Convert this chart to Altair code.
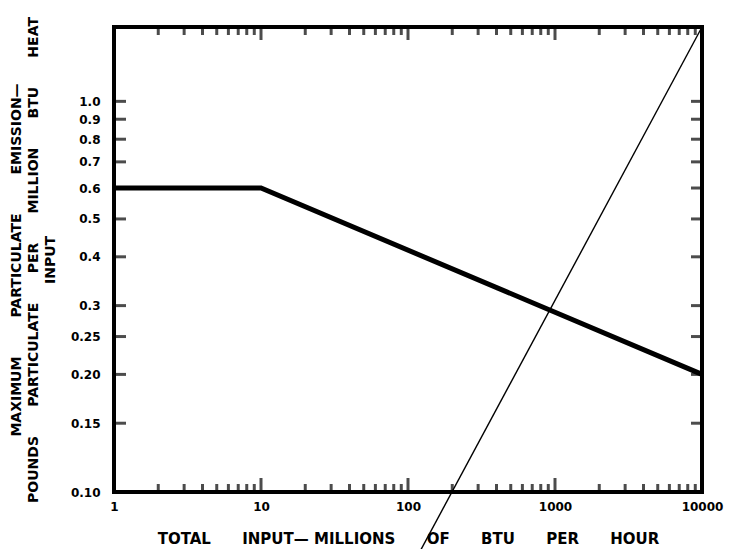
import altair as alt
import pandas as pd

# ---- data ----
thick_x = [1, 10, 10000]
thick_y = [0.6, 0.6, 0.2]

thin_x = [122, 10000]
thin_y = [0.071, 1.55]

x_label_values = [1, 10, 100, 1000, 10000]
x_major_ticks = [10, 100, 1000]
x_minor_ticks = [2, 3, 4, 5, 6, 7, 8, 9,
                 20, 30, 40, 50, 60, 70, 80, 90,
                 200, 300, 400, 500, 600, 700, 800, 900,
                 2000, 3000, 4000, 5000, 6000, 7000, 8000, 9000]
y_tick_values = [0.10, 0.15, 0.20, 0.25, 0.3, 0.4, 0.5, 0.6, 0.7, 0.8, 0.9, 1.0]

x_domain = [1, 10000]
y_domain = [0.1, 1.55]

W, H = 588, 465
FONT = "DejaVu Sans"
SP = "\u00a0"

y_title = [
    "MAXIMUM" + SP * 8 + "PARTICULATE" + SP * 8 + "EMISSION—",
    "POUNDS" + SP * 6 + "PARTICULATE" + SP * 6 + "PER" + SP * 6 + "MILLION" + SP * 6 + "BTU" + SP * 6 + "HEAT",
    "INPUT",
]
x_title = ("TOTAL" + SP * 6 + "INPUT—" + SP + "MILLIONS" + SP * 6 + "OF" + SP * 6
           + "BTU" + SP * 6 + "PER" + SP * 6 + "HOUR")

xs = alt.Scale(type="log", domain=x_domain, nice=False)
ys = alt.Scale(type="log", domain=y_domain, nice=False, zero=False)

thick_df = pd.DataFrame({"x": thick_x, "y": thick_y})
thin_df = pd.DataFrame({"x": thin_x, "y": thin_y})
xmaj_df = pd.DataFrame({"x": x_major_ticks})
xmin_df = pd.DataFrame({"x": x_minor_ticks})
ytick_df = pd.DataFrame({"y": y_tick_values})

x_axis = alt.Axis(values=x_label_values, labelExpr="format(datum.value, 'd')",
                  title=x_title, labelFont=FONT, labelFontWeight="bold", labelFontSize=12,
                  labelPadding=9, labelColor="black", titleFont=FONT, titleFontWeight="bold",
                  titleFontSize=15, titlePadding=19, titleColor="black",
                  ticks=False, domain=False, grid=False, labelFlush=False)
y_axis = alt.Axis(values=y_tick_values,
                  labelExpr="datum.value < 0.29 ? format(datum.value, '.2f') : format(datum.value, '.1f')",
                  title=y_title, labelFont=FONT, labelFontWeight="bold", labelFontSize=12,
                  labelPadding=14, labelColor="black", titleFont=FONT, titleFontWeight="bold",
                  titleFontSize=14, titleLineHeight=17, titlePadding=13, titleColor="black",
                  ticks=False, domain=False, grid=False, labelFlush=False)

thick = alt.Chart(thick_df).mark_line(color="black", strokeWidth=5, strokeJoin="miter").encode(
    x=alt.X("x:Q", scale=xs, axis=x_axis),
    y=alt.Y("y:Q", scale=ys, axis=y_axis),
)
thin = alt.Chart(thin_df).mark_line(color="black", strokeWidth=1.4, clip=False).encode(
    x=alt.X("x:Q", scale=xs),
    y=alt.Y("y:Q", scale=ys),
)

bot_major = alt.Chart(xmaj_df).mark_tick(color="black", thickness=3, size=14, orient="vertical").encode(
    x=alt.X("x:Q", scale=xs), y=alt.value(H - 7))
bot_minor = alt.Chart(xmin_df).mark_tick(color="black", thickness=3, size=8, orient="vertical").encode(
    x=alt.X("x:Q", scale=xs), y=alt.value(H - 4))
top_major = alt.Chart(xmaj_df).mark_tick(color="black", thickness=3, size=13, orient="vertical").encode(
    x=alt.X("x:Q", scale=xs), y=alt.value(6.5))
top_minor = alt.Chart(xmin_df).mark_tick(color="black", thickness=3, size=8, orient="vertical").encode(
    x=alt.X("x:Q", scale=xs), y=alt.value(4))
left_ticks = alt.Chart(ytick_df).mark_tick(color="black", thickness=3, size=12, orient="horizontal").encode(
    y=alt.Y("y:Q", scale=ys), x=alt.value(6))
right_ticks = alt.Chart(ytick_df).mark_tick(color="black", thickness=3, size=11, orient="horizontal").encode(
    y=alt.Y("y:Q", scale=ys), x=alt.value(W - 5.5))

chart = alt.layer(thick, thin, bot_major, bot_minor, top_major, top_minor, left_ticks, right_ticks).properties(
    width=W, height=H,
    padding={"left": 106, "top": 19, "right": 22, "bottom": 57},
    autosize=alt.AutoSizeParams(type="none"),
    background="white",
).configure_view(stroke="black", strokeWidth=4)

chart.save("out.html", embed_options={"renderer": "svg", "actions": False})
